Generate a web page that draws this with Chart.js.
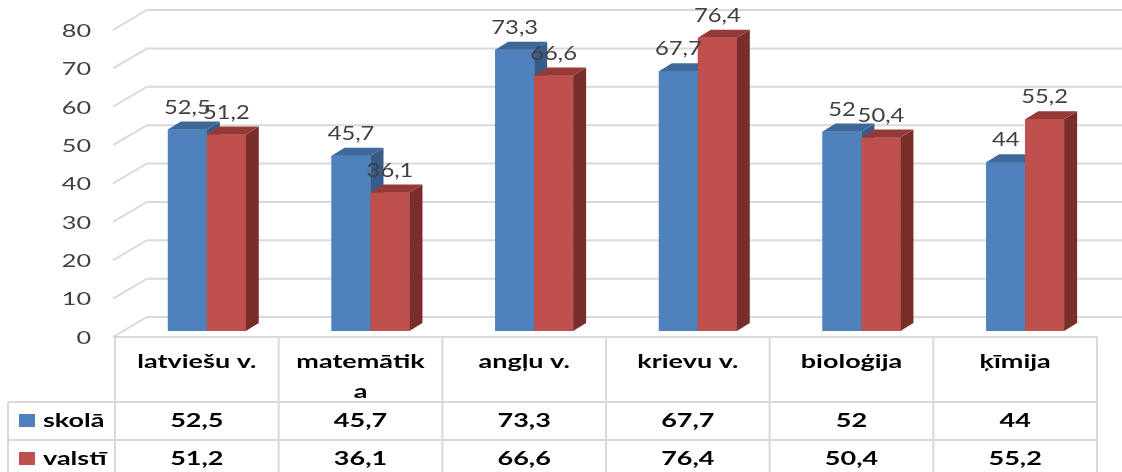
<!DOCTYPE html>
<html lang="lv">
<head>
  <meta charset="UTF-8" />
  <title>skolā / valstī</title>
  <script src="https://cdn.jsdelivr.net/npm/chart.js"></script>
  <style>
    body { margin: 0; background: #fff; }
    #wrap { position: relative; width: 1122px; height: 472px; }
  </style>
</head>
<body>
<div id="wrap"><canvas id="chart"></canvas></div>

<script>
  // data
  const categories = ['latviešu v.', ['matemātik', 'a'], 'angļu v.', 'krievu v.', 'bioloģija', 'ķīmija'];
  const seriesNames = ['skolā', 'valstī'];
  const skola = [52.5, 45.7, 73.3, 67.7, 52, 44];
  const valsti = [51.2, 36.1, 66.6, 76.4, 50.4, 55.2];
  const yTicks = [0, 10, 20, 30, 40, 50, 60, 70, 80];

  // look
  const frontColors = ['#4f81bd', '#c0504d'];
  const topColors = ['#3e6899', '#963a37'];
  const sideColors = ['#385d8a', '#7a2e2c'];
  const FONT = 'Lato, "Open Sans", sans-serif';
  const GRID = '#d9d9d9';
  const WALL = { dx: 34, dy: -20 };  // front edge -> back wall
  const BARS = { dx: 10, dy: -6 };   // front edge -> front of bars
  const DEPTH = { dx: 13, dy: -8 };  // bar thickness
  const ROWS = [402, 440, 478];      // bottoms of header / skolā / valstī rows

  const fmt = v => String(v).replace('.', ',');

  function stretchText(ctx, txt, x, y, sx) {
    ctx.save();
    ctx.translate(x, y);
    ctx.scale(sx, 1);
    ctx.fillText(txt, 0, 0);
    ctx.restore();
  }

  function poly(ctx, pts, color) {
    ctx.beginPath();
    ctx.moveTo(pts[0][0], pts[0][1]);
    pts.slice(1).forEach(p => ctx.lineTo(p[0], p[1]));
    ctx.closePath();
    ctx.fillStyle = color;
    ctx.fill();
  }

  const box3d = {
    id: 'box3d',
    beforeDatasetsDraw(chart) {
      const { ctx, chartArea: a, scales: { y } } = chart;
      ctx.save();
      ctx.strokeStyle = GRID;
      ctx.lineWidth = 2;
      yTicks.forEach(t => {
        const py = y.getPixelForValue(t);
        ctx.beginPath();
        ctx.moveTo(a.left - 2, py);
        ctx.lineTo(a.left - 2 + WALL.dx, py + WALL.dy);
        ctx.lineTo(chart.width, py + WALL.dy);
        ctx.stroke();
      });
      // front edge of the floor
      ctx.beginPath();
      ctx.moveTo(a.left - 2, a.bottom);
      ctx.lineTo(a.right, a.bottom);
      ctx.stroke();

      // value axis labels
      ctx.fillStyle = '#404040';
      ctx.font = '18px ' + FONT;
      ctx.textAlign = 'right';
      ctx.textBaseline = 'middle';
      yTicks.forEach(t => stretchText(ctx, String(t), 91, y.getPixelForValue(t) + 1, 1.4));
      ctx.restore();
    },
    beforeDatasetDraw(chart) {
      chart.ctx.save();
      chart.ctx.translate(BARS.dx, BARS.dy);
    },
    afterDatasetDraw(chart) {
      chart.ctx.restore();
    },
    afterDatasetsDraw(chart) {
      const ctx = chart.ctx;
      const metas = [0, 1].map(i => chart.getDatasetMeta(i));
      ctx.save();
      ctx.translate(BARS.dx, BARS.dy);
      for (let c = 0; c < categories.length; c++) {
        metas.forEach((m, s) => {
          const { x, y, base, width } = m.data[c].getProps(['x', 'y', 'base', 'width'], true);
          const x0 = x - width / 2, x1 = x + width / 2;
          ctx.fillStyle = frontColors[s];
          ctx.fillRect(x0, y, width, base - y);
          poly(ctx, [[x1, y], [x1 + DEPTH.dx, y + DEPTH.dy], [x1 + DEPTH.dx, base + DEPTH.dy], [x1, base]], sideColors[s]);
          poly(ctx, [[x0, y], [x1, y], [x1 + DEPTH.dx, y + DEPTH.dy], [x0 + DEPTH.dx, y + DEPTH.dy]], topColors[s]);
        });
      }
      // data labels
      ctx.fillStyle = '#404040';
      ctx.font = '19px ' + FONT;
      ctx.textAlign = 'center';
      ctx.textBaseline = 'middle';
      metas.forEach(m => {
        const vals = chart.data.datasets[m.index].data;
        m.data.forEach((bar, c) => stretchText(ctx, fmt(vals[c]), bar.x, bar.y - 22, 1.25));
      });
      ctx.restore();
    },
    afterDraw(chart) {
      // data table under the plot
      const { ctx, chartArea: a } = chart;
      const step = (a.right - a.left) / categories.length;
      ctx.save();
      ctx.strokeStyle = GRID;
      ctx.lineWidth = 2;
      ctx.beginPath();
      for (let i = 0; i <= categories.length; i++) {
        const px = a.left + i * step;
        ctx.moveTo(px, a.bottom);
        ctx.lineTo(px, ROWS[2]);
      }
      ctx.moveTo(8, ROWS[0]);
      ctx.lineTo(8, ROWS[2]);
      ROWS.forEach(ry => { ctx.moveTo(8, ry); ctx.lineTo(a.right, ry); });
      ctx.stroke();

      ctx.fillStyle = '#000';
      ctx.font = 'bold 19px ' + FONT;
      ctx.textAlign = 'center';
      ctx.textBaseline = 'middle';
      categories.forEach((lab, i) => {
        const cx = a.left + (i + 0.5) * step;
        [].concat(lab).forEach((line, k) => stretchText(ctx, line, cx, 362 + k * 30, 1.42));
        stretchText(ctx, fmt(skola[i]), cx, 421, 1.42);
        stretchText(ctx, fmt(valsti[i]), cx, 459, 1.42);
      });

      // legend keys
      ctx.textAlign = 'left';
      [skola, valsti].forEach((_, s) => {
        const ry = s === 0 ? 421 : 459;
        ctx.fillStyle = frontColors[s];
        ctx.fillRect(19, ry - 7, 16, 13);
        ctx.fillStyle = '#000';
        stretchText(ctx, seriesNames[s], 43, ry, 1.42);
      });
      ctx.restore();
    }
  };

  new Chart(document.getElementById('chart'), {
    type: 'bar',
    data: {
      labels: categories,
      datasets: [
        { label: seriesNames[0], data: skola, backgroundColor: frontColors[0] },
        { label: seriesNames[1], data: valsti, backgroundColor: frontColors[1] }
      ]
    },
    options: {
      responsive: true,
      maintainAspectRatio: false,
      animation: false,
      layout: { padding: { left: 115, right: 25, top: 30, bottom: 135 } },
      datasets: { bar: { categoryPercentage: 0.476, barPercentage: 1 } },
      scales: {
        x: { display: false },
        y: { display: false, min: 0, max: 80, ticks: { stepSize: 10 } }
      },
      plugins: { legend: { display: false }, tooltip: { enabled: false } }
    },
    plugins: [box3d]
  });
</script>
</body>
</html>
